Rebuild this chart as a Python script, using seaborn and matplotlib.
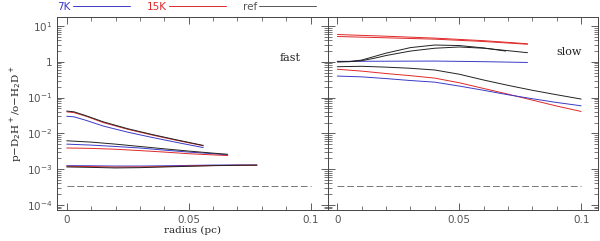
import numpy as np
import pandas as pd
import matplotlib.pyplot as plt
import seaborn as sns
from matplotlib.lines import Line2D
from matplotlib.ticker import MultipleLocator, LogLocator, NullFormatter, FuncFormatter

# --- données (rapport p-D2H+/o-H2D+) ---
# panneau "fast"
r_fast_a = [0, 0.003, 0.008, 0.015, 0.025, 0.035, 0.045, 0.056]
fast_a_7k = [0.030, 0.029, 0.023, 0.016, 0.0108, 0.0077, 0.0056, 0.0040]
fast_a_15k = [0.040, 0.038, 0.030, 0.020, 0.0130, 0.0090, 0.0064, 0.0045]
fast_a_ref = [0.042, 0.040, 0.031, 0.021, 0.0135, 0.0093, 0.0066, 0.0046]

r_fast_b = [0, 0.01, 0.02, 0.03, 0.04, 0.05, 0.06, 0.066]
fast_b_7k = [0.0050, 0.0047, 0.0043, 0.0039, 0.0034, 0.0030, 0.0027, 0.0025]
fast_b_15k = [0.0039, 0.0038, 0.0036, 0.0033, 0.0030, 0.0027, 0.0025, 0.0024]
fast_b_ref = [0.0062, 0.0057, 0.0050, 0.0043, 0.0037, 0.0032, 0.0028, 0.0026]

r_fast_c = [0, 0.01, 0.02, 0.03, 0.04, 0.05, 0.06, 0.07, 0.078]
fast_c_7k = [0.00125, 0.00124, 0.00122, 0.00122, 0.00124, 0.00127, 0.00130, 0.00131, 0.00130]
fast_c_15k = [0.00120, 0.00118, 0.00114, 0.00115, 0.00118, 0.00122, 0.00126, 0.00128, 0.00128]
fast_c_ref = [0.00115, 0.00112, 0.00108, 0.00110, 0.00115, 0.00120, 0.00125, 0.00128, 0.00130]

# panneau "slow"
r_slow_a = [0, 0.02, 0.04, 0.06, 0.078]
slow_a_15k_1 = [5.8, 5.2, 4.6, 3.9, 3.2]
slow_a_15k_2 = [5.1, 4.7, 4.3, 3.7, 3.1]
slow_a_7k = [1.03, 1.04, 1.05, 1.01, 0.96]

r_slow_ref1 = [0, 0.005, 0.01, 0.015, 0.02, 0.03, 0.04, 0.05, 0.06, 0.069]
slow_ref_1 = [1.0, 1.02, 1.12, 1.4, 1.75, 2.5, 2.95, 2.85, 2.45, 2.0]
r_slow_ref2 = [0, 0.005, 0.01, 0.015, 0.02, 0.03, 0.04, 0.05, 0.06, 0.07, 0.078]
slow_ref_2 = [1.0, 1.01, 1.08, 1.25, 1.5, 2.0, 2.4, 2.6, 2.4, 2.05, 1.8]

r_slow_b = [0, 0.01, 0.02, 0.03, 0.04, 0.05, 0.06, 0.07, 0.08, 0.09, 0.1]
slow_b_ref = [0.73, 0.75, 0.71, 0.66, 0.59, 0.45, 0.31, 0.22, 0.16, 0.12, 0.091]
slow_b_15k = [0.62, 0.55, 0.47, 0.41, 0.35, 0.26, 0.18, 0.125, 0.085, 0.058, 0.041]
slow_b_7k = [0.40, 0.38, 0.34, 0.30, 0.27, 0.21, 0.16, 0.12, 0.093, 0.073, 0.059]

r_ref = [0, 0.1]
ref_level = [3.3e-4, 3.3e-4]

colors = {'7K': '#3a3ac8', '15K': '#e02828', 'ref': '#222222'}


def courbes(liste):
    rows = []
    for i, (r, v, m) in enumerate(liste):
        for x, y in zip(r, v):
            rows.append({'curve': i, 'model': m, 'r': x, 'ratio': y})
    return pd.DataFrame(rows)


fast = courbes([
    (r_fast_a, fast_a_7k, '7K'), (r_fast_a, fast_a_15k, '15K'), (r_fast_a, fast_a_ref, 'ref'),
    (r_fast_b, fast_b_7k, '7K'), (r_fast_b, fast_b_15k, '15K'), (r_fast_b, fast_b_ref, 'ref'),
    (r_fast_c, fast_c_7k, '7K'), (r_fast_c, fast_c_15k, '15K'), (r_fast_c, fast_c_ref, 'ref'),
])
slow = courbes([
    (r_slow_a, slow_a_15k_1, '15K'), (r_slow_a, slow_a_15k_2, '15K'), (r_slow_a, slow_a_7k, '7K'),
    (r_slow_ref1, slow_ref_1, 'ref'), (r_slow_ref2, slow_ref_2, 'ref'),
    (r_slow_b, slow_b_ref, 'ref'), (r_slow_b, slow_b_15k, '15K'), (r_slow_b, slow_b_7k, '7K'),
])

sns.set_style('ticks')
plt.rcParams.update({
    'xtick.direction': 'in', 'ytick.direction': 'in',
    'xtick.top': True, 'ytick.right': True,
    'axes.edgecolor': '#444444', 'axes.linewidth': 0.7,
    'xtick.color': '#444444', 'ytick.color': '#444444',
    'xtick.labelcolor': '#555555', 'ytick.labelcolor': '#555555',
    'xtick.labelsize': 7.5, 'ytick.labelsize': 7.5,
})

fig, axes = plt.subplots(1, 2, figsize=(6, 2.41), dpi=100, sharey=True)
fig.subplots_adjust(left=0.095, right=0.997, bottom=0.129, top=0.929, wspace=0)

for ax, df, lab in zip(axes, [fast, slow], ['fast', 'slow']):
    sns.lineplot(data=df, x='r', y='ratio', hue='model', units='curve', estimator=None,
                 palette=colors, legend=False, lw=0.7, ax=ax)
    sns.lineplot(x=r_ref, y=ref_level, color='#777777', lw=0.7, ax=ax)
    ax.lines[-1].set_linestyle((0, (7, 3)))
    ax.set_yscale('log')
    ax.set_xlim(-0.004, 0.107)
    ax.set_ylim(10 ** -4.14, 10 ** 1.25)
    ax.xaxis.set_major_locator(MultipleLocator(0.05))
    ax.xaxis.set_minor_locator(MultipleLocator(0.01))
    ax.xaxis.set_major_formatter(FuncFormatter(lambda v, p: '0' if abs(v) < 1e-9 else f'{v:g}'))
    ax.yaxis.set_major_locator(LogLocator(base=10, numticks=10))
    ax.yaxis.set_minor_locator(LogLocator(base=10, subs=np.arange(2, 10), numticks=20))
    ax.yaxis.set_minor_formatter(NullFormatter())
    ax.tick_params(which='major', length=5, width=0.6)
    ax.tick_params(which='minor', length=3, width=0.5)
    ax.set_xlabel('')
    ax.set_ylabel('')
    ax.text(0.90 if lab == 'fast' else 0.94, 0.79 if lab == 'fast' else 0.82, lab,
            transform=ax.transAxes, ha='right', va='center', family='DejaVu Serif',
            fontsize=8, color='#222222')

axes[0].yaxis.set_major_formatter(FuncFormatter(
    lambda v, p: '1' if round(np.log10(v)) == 0 else f'$10^{{{int(round(np.log10(v)))}}}$'))
axes[0].set_xlabel('radius (pc)', family='DejaVu Serif', fontsize=7.5, labelpad=1, color='#222222')
axes[0].set_ylabel('p$-$D$_2$H$^+$/o$-$H$_2$D$^+$', family='DejaVu Serif', fontsize=7.5,
                   labelpad=2, color='#222222')

handles = [Line2D([], [], color=colors['7K'], lw=0.7),
           Line2D([], [], color=colors['15K'], lw=0.7),
           Line2D([], [], color='#555555', lw=0.7)]
fig.legend(handles, ['7K', '15K', 'ref'], loc='upper left', bbox_to_anchor=(0.08, 1.03),
           ncol=3, frameon=False, markerfirst=False, handlelength=5.5, handletextpad=0.2,
           columnspacing=1.6, fontsize=7.5, labelcolor=[colors['7K'], colors['15K'], '#555555'])

plt.savefig('out.png', dpi=100)
